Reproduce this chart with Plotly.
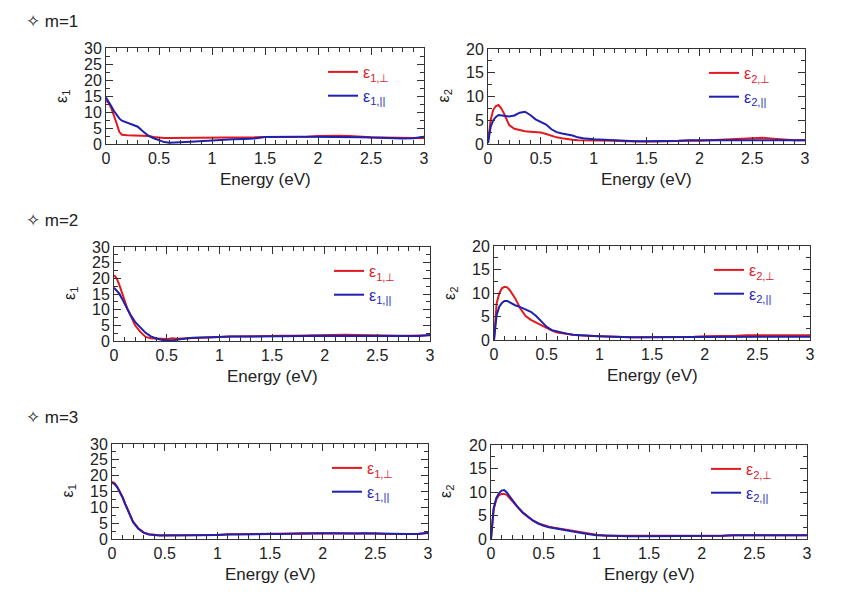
import plotly.graph_objects as go

# ---------------- data ----------------
energy = [0, 0.025, 0.05, 0.075, 0.1, 0.125, 0.15, 0.2, 0.25, 0.3, 0.35, 0.4, 0.45,
          0.5, 0.55, 0.6, 0.65, 0.7, 0.75, 0.8, 0.85, 0.9, 1.0, 1.1, 1.2, 1.3, 1.4,
          1.5, 1.6, 1.7, 1.8, 1.9, 2.0, 2.1, 2.2, 2.3, 2.4, 2.5, 2.6, 2.7, 2.8, 2.9, 3.0]

# m = 1
eps1_perp_m1 = [13.5, 12.8, 11.2, 9.0, 6.5, 3.8, 2.9, 2.7, 2.7, 2.7, 2.6, 2.5, 2.2,
                2.0, 1.9, 1.9, 1.9, 1.9, 1.9, 2.0, 2.0, 2.0, 2.0, 2.1, 2.1, 2.1, 2.1,
                2.2, 2.2, 2.2, 2.2, 2.3, 2.5, 2.6, 2.6, 2.5, 2.2, 2.1, 2.0, 1.9, 1.9, 1.9, 1.9]
eps1_par_m1 = [14.5, 13.3, 11.8, 10.3, 9.0, 8.0, 7.3, 6.7, 6.2, 5.4, 3.9, 2.6, 1.8,
               1.1, 0.6, 0.4, 0.4, 0.5, 0.6, 0.7, 0.8, 0.9, 1.3, 1.4, 1.5, 1.6, 1.7,
               2.2, 2.3, 2.3, 2.3, 2.3, 2.3, 2.3, 2.3, 2.2, 2.1, 2.0, 1.9, 1.7, 1.7, 1.8, 2.3]
eps2_perp_m1 = [0.3, 5.0, 7.2, 8.0, 8.2, 7.5, 6.5, 4.0, 3.2, 2.9, 2.7, 2.6, 2.5,
                2.4, 2.1, 1.7, 1.4, 1.2, 1.0, 0.9, 0.8, 0.8, 0.8, 0.8, 0.7, 0.6, 0.5,
                0.5, 0.5, 0.6, 0.6, 0.7, 0.7, 0.8, 0.9, 1.1, 1.2, 1.3, 1.3, 1.1, 0.9, 0.8, 0.8]
eps2_par_m1 = [0.2, 3.6, 5.0, 5.7, 6.1, 6.0, 5.9, 5.8, 6.0, 6.6, 6.8, 6.1, 5.2,
               4.7, 4.1, 3.1, 2.5, 2.2, 2.0, 1.8, 1.4, 1.2, 1.0, 0.9, 0.8, 0.6, 0.6,
               0.6, 0.6, 0.7, 0.7, 0.8, 0.8, 0.9, 0.9, 0.9, 0.9, 0.9, 0.9, 0.9, 0.8, 0.8, 0.8]

# m = 2
eps1_perp_m2 = [21.0, 20.0, 18.0, 15.5, 12.5, 10.5, 8.7, 5.0, 2.9, 1.3, 0.9, 0.8, 0.7,
                0.6, 0.9, 0.7, 0.8, 0.9, 0.9, 1.0, 1.1, 1.2, 1.3, 1.4, 1.5, 1.5, 1.6,
                1.6, 1.7, 1.7, 1.8, 1.9, 2.0, 2.0, 2.0, 1.9, 1.8, 1.7, 1.7, 1.7, 1.7, 1.7, 1.8]
eps1_par_m2 = [17.0, 16.2, 15.1, 13.6, 12.0, 10.3, 8.7, 6.1, 4.2, 2.6, 1.5, 0.8, 0.4,
               0.15, 0.2, 0.5, 0.7, 0.9, 1.0, 1.1, 1.2, 1.2, 1.3, 1.4, 1.4, 1.5, 1.5,
               1.5, 1.5, 1.6, 1.6, 1.7, 1.7, 1.7, 1.6, 1.6, 1.6, 1.6, 1.6, 1.6, 1.6, 1.6, 1.9]
eps2_perp_m2 = [0.0, 7.8, 9.9, 11.0, 11.3, 11.2, 10.6, 8.9, 6.7, 5.1, 4.3, 3.7, 3.2,
                2.5, 2.0, 1.6, 1.4, 1.2, 1.1, 1.0, 0.9, 0.9, 0.8, 0.7, 0.6, 0.6, 0.6,
                0.6, 0.6, 0.6, 0.7, 0.7, 0.8, 0.8, 0.9, 0.9, 1.0, 1.0, 0.9, 0.9, 1.0, 1.0, 1.0]
eps2_par_m2 = [0.0, 5.3, 7.1, 7.9, 8.3, 8.3, 8.0, 7.4, 7.0, 6.5, 6.0, 5.1, 3.9,
               2.8, 2.1, 1.8, 1.5, 1.3, 1.1, 1.0, 0.9, 0.9, 0.8, 0.7, 0.6, 0.6, 0.6,
               0.6, 0.6, 0.6, 0.6, 0.7, 0.7, 0.7, 0.7, 0.7, 0.7, 0.7, 0.7, 0.7, 0.7, 0.7, 0.7]

# m = 3
eps1_perp_m3 = [18.1, 17.6, 16.5, 15.0, 13.3, 11.2, 9.1, 5.5, 3.4, 2.1, 1.5, 1.3, 1.2,
                1.2, 1.2, 1.2, 1.2, 1.2, 1.2, 1.2, 1.2, 1.3, 1.3, 1.5, 1.5, 1.5, 1.6,
                1.6, 1.7, 1.7, 1.8, 1.8, 1.9, 1.8, 1.7, 1.7, 1.8, 1.7, 1.6, 1.6, 1.6, 1.6, 2.0]
eps1_par_m3 = [17.8, 17.3, 16.3, 14.8, 13.1, 11.0, 8.9, 5.3, 3.2, 2.0, 1.4, 1.2, 1.1,
               1.1, 1.1, 1.1, 1.1, 1.1, 1.2, 1.2, 1.2, 1.2, 1.3, 1.4, 1.5, 1.5, 1.5,
               1.6, 1.6, 1.7, 1.7, 1.8, 1.8, 1.8, 1.7, 1.7, 1.8, 1.7, 1.6, 1.6, 1.6, 1.6, 1.9]
eps2_perp_m3 = [0.0, 6.3, 8.4, 9.3, 9.6, 9.6, 9.4, 8.1, 6.8, 5.6, 4.7, 3.9, 3.3,
                2.9, 2.6, 2.4, 2.2, 2.0, 1.8, 1.6, 1.4, 1.2, 0.9, 0.7, 0.7, 0.6, 0.6,
                0.6, 0.6, 0.6, 0.7, 0.7, 0.7, 0.7, 0.7, 0.8, 0.8, 0.8, 0.8, 0.8, 0.8, 0.8, 0.8]
eps2_par_m3 = [0.0, 6.5, 8.7, 9.7, 10.3, 10.4, 9.9, 8.3, 6.9, 5.7, 4.7, 3.9, 3.3,
               2.8, 2.5, 2.3, 2.1, 1.9, 1.6, 1.4, 1.2, 1.1, 0.8, 0.7, 0.7, 0.6, 0.6,
               0.6, 0.6, 0.6, 0.7, 0.7, 0.7, 0.7, 0.7, 0.8, 0.8, 0.8, 0.8, 0.8, 0.8, 0.8, 0.8]

panel_titles = ["✧ m=1", "✧ m=2", "✧ m=3"]
x_title = "Energy (eV)"

# ---------------- layout helpers ----------------
W, H = 852, 592
RED = "#e3191f"
BLUE = "#1f1fb0"
RED_TXT = "#d9262c"
BLUE_TXT = "#2b2bb5"
FONT = "Liberation Sans, Arial, sans-serif"


def px(x):
    return x / W


def py(y):
    return 1 - y / H


# pixel boxes (left, right, top, bottom)
boxes = [
    (106, 424, 48, 144), (488, 805, 49, 144),
    (114, 430, 247, 341), (494, 810, 246, 340),
    (112, 428, 444, 539), (491, 807, 445, 539),
]

series = [
    (eps1_perp_m1, eps1_par_m1, 1), (eps2_perp_m1, eps2_par_m1, 2),
    (eps1_perp_m2, eps1_par_m2, 1), (eps2_perp_m2, eps2_par_m2, 2),
    (eps1_perp_m3, eps1_par_m3, 1), (eps2_perp_m3, eps2_par_m3, 2),
]

fig = go.Figure()
layout = dict(
    width=W, height=H, margin=dict(l=0, r=0, t=0, b=0, autoexpand=False),
    paper_bgcolor="white", plot_bgcolor="white",
    font=dict(family=FONT, color="#222222"),
    annotations=[],
)

for i, ((red_vals, blue_vals, k), (l, r, t, b)) in enumerate(zip(series, boxes)):
    n = i + 1
    xa = "x" if n == 1 else f"x{n}"
    ya = "y" if n == 1 else f"y{n}"
    lg = "legend" if n == 1 else f"legend{n}"
    fig.add_trace(go.Scatter(
        x=energy, y=red_vals, mode="lines", xaxis=xa, yaxis=ya, legend=lg,
        line=dict(color=RED, width=2),
        name=f'<span style="color:{RED_TXT}">ε<sub>{k},⊥</sub></span>'))
    fig.add_trace(go.Scatter(
        x=energy, y=blue_vals, mode="lines", xaxis=xa, yaxis=ya, legend=lg,
        line=dict(color=BLUE, width=2),
        name=f'<span style="color:{BLUE_TXT}">ε<sub>{k},||</sub></span>'))

    common = dict(showline=True, linecolor="#333333", linewidth=1, mirror="ticks",
                  ticks="inside", tickcolor="#333333", ticklen=7, tickwidth=1,
                  showgrid=False, zeroline=False, automargin=False,
                  tickfont=dict(size=16, family=FONT))
    layout[f"xaxis{'' if n == 1 else n}"] = dict(
        domain=[px(l), px(r)], anchor=ya, range=[0, 3], dtick=0.5, tick0=0,
        minor=dict(dtick=0.1, ticks="inside", ticklen=4, tickcolor="#333333"),
        **common)
    ymax = 30 if k == 1 else 20
    layout[f"yaxis{'' if n == 1 else n}"] = dict(
        domain=[py(b), py(t)], anchor=xa, range=[0, ymax], dtick=5, tick0=0,
        minor=dict(dtick=2.5, ticks="inside", ticklen=4, tickcolor="#333333"),
        **common)

    # legend inside top-right
    layout[lg] = dict(
        x=px(r - 101), y=py(t + 7), xanchor="left", yanchor="top",
        bgcolor="rgba(0,0,0,0)", borderwidth=0, itemwidth=30, tracegroupgap=0,
        font=dict(size=16, family=FONT))

    # axis titles
    layout["annotations"].append(dict(
        text=x_title, x=px((l + r) / 2), y=py(b + 35), xref="paper", yref="paper",
        xanchor="center", yanchor="middle",
        showarrow=False, font=dict(size=17, family=FONT, color="#222222")))
    layout["annotations"].append(dict(
        text=f"ε<sub>{k}</sub>", x=px(l - 44), y=py((t + b) / 2), xref="paper", yref="paper",
        xanchor="center", yanchor="middle",
        showarrow=False, textangle=-90, font=dict(size=16, family=FONT, color="#222222")))

for title, yy in zip(panel_titles, [21, 221, 417]):
    layout["annotations"].append(dict(
        text=title, x=px(24), y=py(yy), xref="paper", yref="paper",
        xanchor="left", yanchor="middle",
        showarrow=False, font=dict(size=17, family=FONT, color="#222222")))

fig.update_layout(**layout)
fig.update_layout(showlegend=True)

fig.write_html("out.html", config={"displayModeBar": False},
               post_script="document.body.style.margin='0';")
